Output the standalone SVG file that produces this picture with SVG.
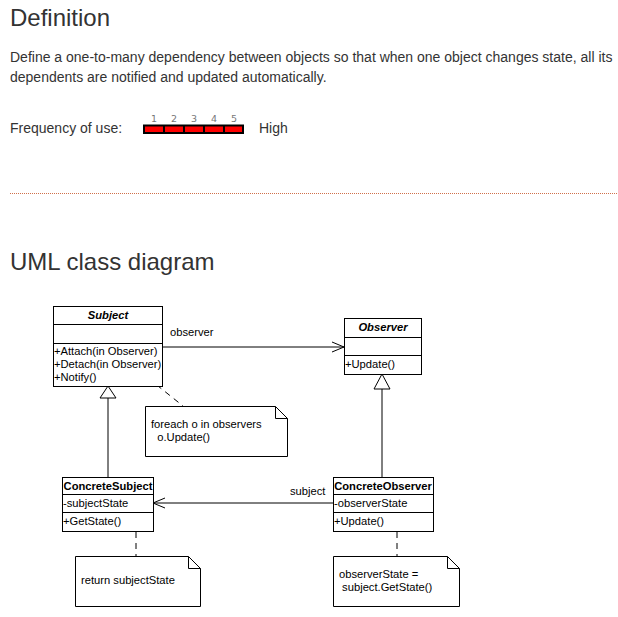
<svg xmlns="http://www.w3.org/2000/svg" width="618" height="617" viewBox="0 0 618 617">
<style>
  .h { font-family: "Liberation Sans", Arial, sans-serif; fill: #333; }
  .t { font-family: "Liberation Sans", Arial, sans-serif; font-size: 11.2px; fill: #000; }
  .b { font-weight: bold; }
  .i { font-style: italic; }
  .box { fill: #fff; stroke: #000; stroke-width: 1; }
  .ln { stroke: #000; stroke-width: 1; fill: none; }
  .dash { stroke: #000; stroke-width: 1; fill: none; stroke-dasharray: 6 5; }
  .num { font-family: "DejaVu Sans", sans-serif; font-size: 9.5px; fill: #777; }
</style>
<defs>
  <marker id="open" markerWidth="14" markerHeight="12" refX="13" refY="6" orient="auto" markerUnits="userSpaceOnUse">
    <path d="M1,1 L13,6 L1,11" fill="none" stroke="#000" stroke-width="1"/>
  </marker>
</defs>
<rect width="618" height="617" fill="#fff"/>

<g id="header">
  <text class="h" x="10" y="26" font-size="24">Definition</text>
  <text class="h" x="10" y="62" font-size="14">Define a one-to-many dependency between objects so that when one object changes state, all its</text>
  <text class="h" x="10" y="82" font-size="14">dependents are notified and updated automatically.</text>
  <text class="h" x="10" y="133" font-size="14">Frequency of use:</text>
  <rect x="143" y="124.5" width="101" height="9.5" fill="#000"/>
  <rect x="145" y="126.5" width="18" height="5.5" fill="#f00"/>
  <rect x="165" y="126.5" width="18" height="5.5" fill="#f00"/>
  <rect x="185" y="126.5" width="18" height="5.5" fill="#f00"/>
  <rect x="205" y="126.5" width="18" height="5.5" fill="#f00"/>
  <rect x="225" y="126.5" width="17" height="5.5" fill="#f00"/>
  <text class="num" x="154" y="122" text-anchor="middle">1</text>
  <text class="num" x="174" y="122" text-anchor="middle">2</text>
  <text class="num" x="194" y="122" text-anchor="middle">3</text>
  <text class="num" x="214" y="122" text-anchor="middle">4</text>
  <text class="num" x="234" y="122" text-anchor="middle">5</text>
  <text class="h" x="259" y="133" font-size="14">High</text>
  <line x1="10" y1="193.5" x2="618" y2="193.5" stroke="#d0704a" stroke-width="1" stroke-dasharray="1 1"/>
  <text class="h" x="10" y="270" font-size="24">UML class diagram</text>
</g>

<g id="connectors">
  <line class="ln" x1="162" y1="347" x2="344" y2="347" marker-end="url(#open)"/>
  <text class="t" x="170" y="336">observer</text>
  <line class="ln" x1="333" y1="503" x2="153" y2="503" marker-end="url(#open)"/>
  <text class="t" x="290" y="495">subject</text>
  <line class="ln" x1="108" y1="398" x2="108" y2="477"/>
  <path class="box" d="M108,386 L116,398 L100,398 Z"/>
  <line class="ln" x1="382" y1="389" x2="382" y2="477"/>
  <path class="box" d="M382,374 L390,389 L374,389 Z"/>
  <line class="dash" x1="148" y1="378" x2="183" y2="406"/>
  <line class="dash" x1="136" y1="532" x2="136" y2="556"/>
  <line class="dash" x1="397" y1="532" x2="397" y2="556"/>
</g>

<g id="Subject">
  <rect class="box" x="53.5" y="306.5" width="109" height="80"/>
  <line class="ln" x1="53.5" y1="324.5" x2="162.5" y2="324.5"/>
  <line class="ln" x1="53.5" y1="343.5" x2="162.5" y2="343.5"/>
  <text class="t b i" x="108" y="319" text-anchor="middle">Subject</text>
  <text class="t" x="54" y="355">+Attach(in Observer)</text>
  <text class="t" x="54" y="368">+Detach(in Observer)</text>
  <text class="t" x="54" y="381">+Notify()</text>
</g>

<g id="Observer">
  <rect class="box" x="344.5" y="318.5" width="77" height="56"/>
  <line class="ln" x1="344.5" y1="337.5" x2="421.5" y2="337.5"/>
  <line class="ln" x1="344.5" y1="355.5" x2="421.5" y2="355.5"/>
  <text class="t b i" x="383" y="331" text-anchor="middle">Observer</text>
  <text class="t" x="345" y="368">+Update()</text>
</g>

<g id="NoteNotify">
  <path class="box" d="M145.5,406.5 H275.5 L287.5,418.5 V456.5 H145.5 Z"/>
  <path class="ln" d="M275.5,406.5 V418.5 H287.5"/>
  <text class="t" x="151" y="428">foreach o in observers</text>
  <text class="t" x="151" y="441" xml:space="preserve">  o.Update()</text>
</g>

<g id="ConcreteSubject">
  <rect class="box" x="62.5" y="477.5" width="91" height="54"/>
  <line class="ln" x1="62.5" y1="494.5" x2="153.5" y2="494.5"/>
  <line class="ln" x1="62.5" y1="512.5" x2="153.5" y2="512.5"/>
  <text class="t b" x="108" y="490" text-anchor="middle">ConcreteSubject</text>
  <text class="t" x="63" y="507">-subjectState</text>
  <text class="t" x="63" y="525">+GetState()</text>
</g>

<g id="ConcreteObserver">
  <rect class="box" x="333.5" y="477.5" width="100" height="54"/>
  <line class="ln" x1="333.5" y1="494.5" x2="433.5" y2="494.5"/>
  <line class="ln" x1="333.5" y1="512.5" x2="433.5" y2="512.5"/>
  <text class="t b" x="383" y="490" text-anchor="middle">ConcreteObserver</text>
  <text class="t" x="334" y="507">-observerState</text>
  <text class="t" x="334" y="525">+Update()</text>
</g>

<g id="NoteGetState">
  <path class="box" d="M75.5,556.5 H188.5 L200.5,568.5 V606.5 H75.5 Z"/>
  <path class="ln" d="M188.5,556.5 V568.5 H200.5"/>
  <text class="t" x="81" y="584">return subjectState</text>
</g>

<g id="NoteUpdate">
  <path class="box" d="M333.5,556.5 H447.5 L459.5,568.5 V606.5 H333.5 Z"/>
  <path class="ln" d="M447.5,556.5 V568.5 H459.5"/>
  <text class="t" x="339" y="578">observerState =</text>
  <text class="t" x="339" y="591" xml:space="preserve"> subject.GetState()</text>
</g>
</svg>
